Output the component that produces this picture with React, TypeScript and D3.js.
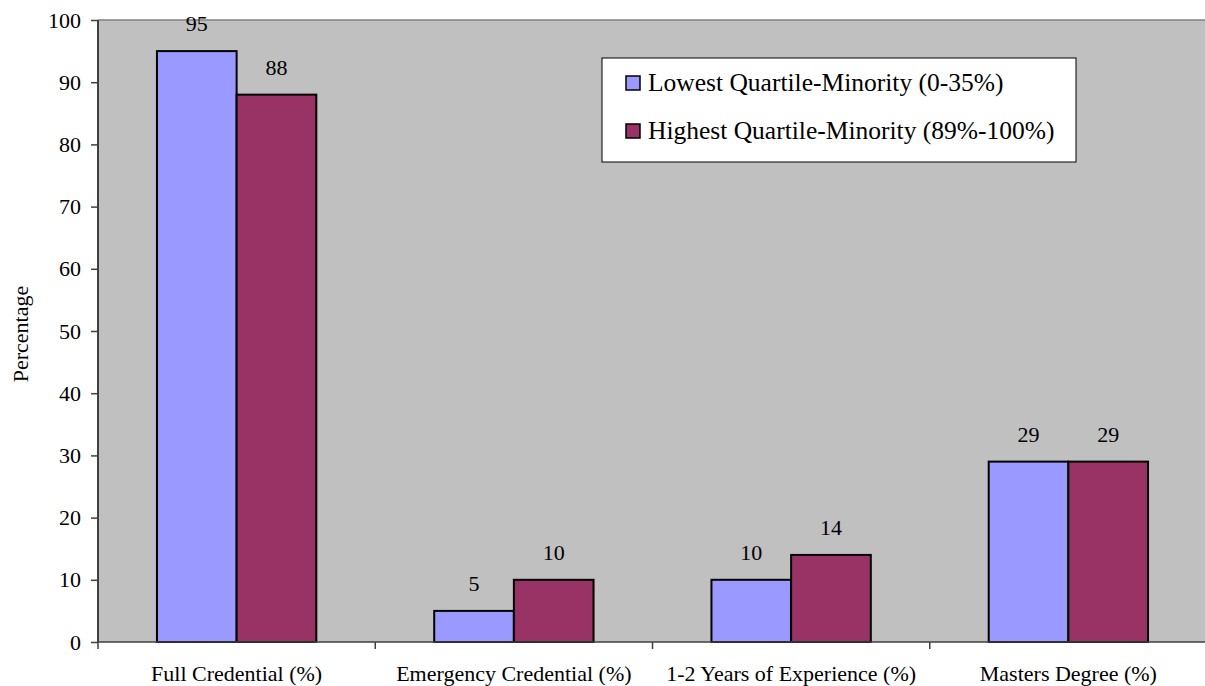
import React, { useEffect, useRef } from 'react'
import * as d3 from 'd3'

const categories = ['Full Credential (%)', 'Emergency Credential (%)', '1-2 Years of Experience (%)', 'Masters Degree (%)']
const seriesNames = ['Lowest Quartile-Minority (0-35%)', 'Highest Quartile-Minority (89%-100%)']
const lowest = [95, 5, 10, 29]
const highest = [88, 10, 14, 29]
const yTicks = [0, 10, 20, 30, 40, 50, 60, 70, 80, 90, 100]
const colors = ['#9999ff', '#993366']

export default function App() {
    const svgRef = useRef<SVGSVGElement>(null)

    useEffect(() => {
        const width = 1205
        const height = 686
        const left = 98
        const right = 1207
        const top = 20
        const bottom = 642
        const font = "'Liberation Serif', 'Times New Roman', serif"

        const svg = d3.select(svgRef.current).attr('width', width).attr('height', height)
        svg.selectAll('*').remove()

        const x = d3.scaleBand().domain(categories).range([left, right])
        const y = d3.scaleLinear().domain([0, 100]).range([bottom, top])
        const inner = d3.scaleBand().domain(['0', '1']).range([0, x.bandwidth()]).paddingOuter(0.74).paddingInner(0)

        svg.append('rect')
            .attr('x', left).attr('y', top)
            .attr('width', right - left).attr('height', bottom - top)
            .attr('fill', '#c0c0c0')

        svg.append('line')
            .attr('x1', left).attr('x2', right).attr('y1', top).attr('y2', top)
            .attr('stroke', '#808080').attr('stroke-width', 1.5)

        const data = categories.map((c, i) => ({ c, vals: [lowest[i], highest[i]] }))

        const groups = svg.selectAll('.grp').data(data).enter().append('g')
            .attr('transform', (d) => `translate(${x(d.c)},0)`)

        groups.selectAll('rect').data((d) => d.vals).enter().append('rect')
            .attr('x', (_, i) => inner(String(i)) as number)
            .attr('y', (v) => y(v))
            .attr('width', inner.bandwidth())
            .attr('height', (v) => bottom - y(v))
            .attr('fill', (_, i) => colors[i])
            .attr('stroke', '#000').attr('stroke-width', 2)

        groups.selectAll('text').data((d) => d.vals).enter().append('text')
            .attr('x', (_, i) => (inner(String(i)) as number) + inner.bandwidth() / 2)
            .attr('y', (v) => y(v) - 20)
            .attr('text-anchor', 'middle')
            .style('font-family', font).style('font-size', '22px')
            .text((v) => v)

        const yAxis = svg.append('g')
            .attr('transform', `translate(${left},0)`)
            .call(d3.axisLeft(y).tickValues(yTicks).tickSize(7).tickPadding(10))
        yAxis.selectAll('text').style('font-family', font).style('font-size', '22px').attr('fill', '#000')
        yAxis.selectAll('line').attr('stroke', '#404040').attr('stroke-width', 1.5)
        yAxis.select('.domain').attr('stroke', '#404040').attr('stroke-width', 2).attr('d', `M0,${top}V${bottom}`)

        const xAxis = svg.append('g').attr('transform', `translate(0,${bottom})`)
        xAxis.append('line').attr('x1', left).attr('x2', right).attr('stroke', '#404040').attr('stroke-width', 1.5)
        xAxis.selectAll('.tk').data(categories).enter().append('line')
            .attr('x1', (d) => x(d) as number).attr('x2', (d) => x(d) as number)
            .attr('y1', 0).attr('y2', 7)
            .attr('stroke', '#404040').attr('stroke-width', 1.5)
        xAxis.selectAll('text').data(categories).enter().append('text')
            .attr('x', (d) => (x(d) as number) + x.bandwidth() / 2)
            .attr('y', 39)
            .attr('text-anchor', 'middle')
            .style('font-family', font).style('font-size', '22px')
            .text((d) => d)

        svg.append('text')
            .attr('transform', `translate(28,334) rotate(-90)`)
            .attr('text-anchor', 'middle')
            .style('font-family', font).style('font-size', '22px')
            .text('Percentage')

        const legend = svg.append('g').attr('transform', 'translate(602,58)')
        legend.append('rect').attr('width', 474).attr('height', 104)
            .attr('fill', '#fff').attr('stroke', '#000').attr('stroke-width', 1)
        seriesNames.forEach((name, i) => {
            const g = legend.append('g').attr('transform', `translate(24,${18 + i * 48})`)
            g.append('rect').attr('width', 14).attr('height', 14)
                .attr('fill', colors[i]).attr('stroke', '#000').attr('stroke-width', 1.5)
            g.append('text').attr('x', 22).attr('y', 15)
                .style('font-family', font).style('font-size', '25.5px')
                .text(name)
        })
    }, [])

    return <svg ref={svgRef} style={{ position: 'absolute', left: 0, top: 0 }} />
}
